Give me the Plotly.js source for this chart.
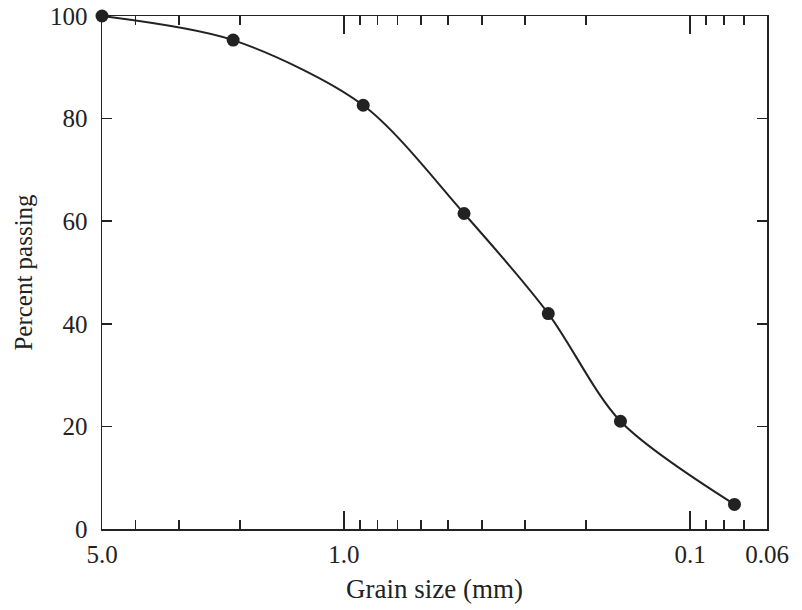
<!DOCTYPE html>
<html>
<head>
<meta charset="utf-8">
<script src="https://cdn.plot.ly/plotly-3.0.1.min.js"></script>
<style>body{margin:0;padding:0;background:#fff;}#chart{width:802px;height:610px;}</style>
</head>
<body>
<div id="chart"></div>
<script>
// Data
const grainSize = [5.0, 2.09, 0.88, 0.45, 0.257, 0.159, 0.0745];   // mm
const percentPassing = [100, 95.3, 82.6, 61.5, 42.0, 21.0, 4.8];   // %

const xMajorVals = [5.0, 1.0, 0.1, 0.06];
const xMajorText = ['5.0', '1.0', '0.1', '0.06'];
const xMinorVals = [4, 3, 2, 0.9, 0.8, 0.7, 0.6, 0.5, 0.4, 0.3, 0.2, 0.09, 0.08, 0.07];
const yTickVals = [0, 20, 40, 60, 80, 100];

const ink = '#222';
const font = 'Liberation Serif, Times New Roman, serif';

const trace = {
  x: grainSize,
  y: percentPassing,
  mode: 'lines+markers',
  type: 'scatter',
  line: {shape: 'spline', smoothing: 0.85, color: ink, width: 2},
  marker: {size: 13, color: ink},
  cliponaxis: false,
  showlegend: false
};

const layout = {
  width: 802,
  height: 610,
  margin: {l: 102, r: 35, t: 16, b: 81},
  paper_bgcolor: '#fff',
  plot_bgcolor: '#fff',
  font: {family: font, color: ink, size: 25},
  xaxis: {
    type: 'log',
    range: [Math.log10(5), Math.log10(0.06)],
    tickmode: 'array',
    tickvals: xMajorVals,
    ticktext: xMajorText,
    ticks: 'inside',
    ticklen: 18,
    tickwidth: 1.5,
    tickcolor: ink,
    showline: true,
    linecolor: ink,
    linewidth: 1.5,
    mirror: 'ticks',
    showgrid: false,
    zeroline: false,
    ticklabelstandoff: 2,
    tickfont: {family: font, size: 25, color: ink},
    minor: {
      tickmode: 'array',
      tickvals: xMinorVals,
      ticks: 'inside',
      ticklen: 9,
      tickwidth: 1.5,
      tickcolor: ink,
      showgrid: false
    },
    title: {text: 'Grain size (mm)', font: {family: font, size: 27, color: ink}, standoff: 12}
  },
  yaxis: {
    range: [0, 100],
    tickmode: 'array',
    tickvals: yTickVals,
    ticks: 'inside',
    ticklen: 10,
    tickwidth: 1.5,
    tickcolor: ink,
    showline: true,
    linecolor: ink,
    linewidth: 1.5,
    mirror: 'ticks',
    showgrid: false,
    zeroline: false,
    ticklabelstandoff: 8,
    tickfont: {family: font, size: 25, color: ink},
    title: {text: 'Percent passing', font: {family: font, size: 25, color: ink}, standoff: 10}
  }
};

Plotly.newPlot('chart', [trace], layout, {staticPlot: true, displayModeBar: false});
</script>
</body>
</html>
